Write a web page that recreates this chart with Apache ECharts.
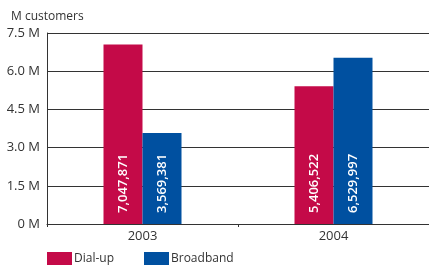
<!DOCTYPE html>
<html>
<head>
<meta charset="utf-8">
<script src="https://cdn.jsdelivr.net/npm/echarts@6/dist/echarts.min.js"></script>
<style>
  html, body { margin: 0; padding: 0; background: #ffffff; }
  #chart { width: 429px; height: 273px; }
</style>
</head>
<body>
<div id="chart"></div>
<script>
const years = ['2003', '2004']; //类目
const dialUp = [7047871, 5406522]; //拨号用户
const broadband = [3569381, 6529997]; //宽带用户
const yTicks = ['0 M', '1.5 M', '3.0 M', '4.5 M', '6.0 M', '7.5 M']; //刻度标签

const fontFamily = '"Open Sans", sans-serif';

//柱内数值标签
function valueLabel() {
  return {
    show: true,
    position: 'insideBottom',
    rotate: 90,
    align: 'left',
    verticalAlign: 'middle',
    distance: 11,
    color: '#ffffff',
    fontSize: 13,
    fontWeight: 600,
    fontFamily: fontFamily,
    formatter: p => p.value.toLocaleString('en-US')
  };
}

const chart = echarts.init(document.getElementById('chart'));
chart.setOption({
  backgroundColor: '#ffffff',
  animation: false,
  title: {
    text: 'M customers',
    left: 6,
    top: 6,
    textStyle: { fontSize: 12, fontWeight: 'normal', color: '#333', fontFamily: fontFamily }
  },
  legend: {
    left: 42,
    bottom: 3,
    icon: 'rect',
    itemWidth: 25,
    itemHeight: 13,
    itemGap: 30,
    textStyle: { fontSize: 12, color: '#333', fontFamily: fontFamily, padding: [0, 0, 0, -3] },
    data: ['Dial-up', 'Broadband']
  },
  grid: { left: 47, right: -1, top: 33, bottom: 49 },
  xAxis: {
    type: 'category',
    data: years,
    axisLine: { lineStyle: { color: '#333', width: 1 } },
    axisTick: { show: true, alignWithLabel: false, length: 3, lineStyle: { color: '#333' } },
    axisLabel: { fontSize: 13, color: '#333', fontFamily: fontFamily, margin: 6 }
  },
  yAxis: {
    type: 'value',
    min: 0,
    max: 7500000,
    interval: 1500000,
    axisLine: { show: true, lineStyle: { color: '#333', width: 1 } },
    axisTick: { show: false },
    splitLine: { lineStyle: { color: '#333', width: 1 } },
    axisLabel: {
      fontSize: 13,
      color: '#333',
      fontFamily: fontFamily,
      margin: 7,
      formatter: (v, i) => yTicks[i]
    }
  },
  series: [{
      name: 'Dial-up',
      type: 'bar',
      data: dialUp,
      barWidth: 39,
      barGap: '0%',
      itemStyle: { color: '#C40A48' },
      label: valueLabel()
    },
    {
      name: 'Broadband',
      type: 'bar',
      data: broadband,
      barWidth: 39,
      barGap: '0%',
      itemStyle: { color: '#0050A0' },
      label: valueLabel()
    }
  ]
});
</script>
</body>
</html>
